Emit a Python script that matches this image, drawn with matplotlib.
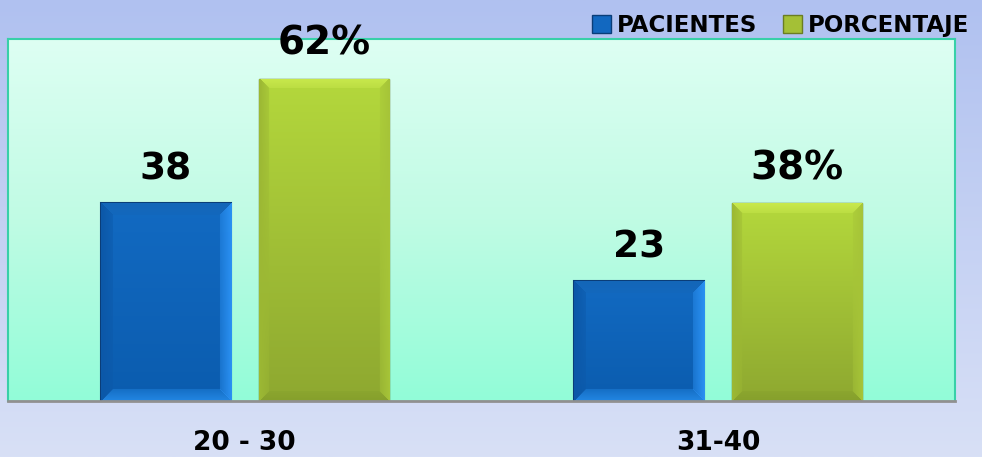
import numpy as np
import matplotlib
matplotlib.use("Agg")
import matplotlib.pyplot as plt
from matplotlib.patches import Patch
from matplotlib.colors import to_rgb

categorias = ["20 - 30", "31-40"]
pacientes = [38, 23]
porcentaje = [62, 38]
etiquetas_pac = ["38", "23"]
etiquetas_por = ["62%", "38%"]

plt.rcParams['font.family'] = ['DejaVu Sans']

fig = plt.figure(figsize=(9.82, 4.57), dpi=100)

# fondo de la figura (degradado lavanda)
bg = fig.add_axes([0, 0, 1, 1], zorder=-10)
grad = np.linspace(0, 1, 256).reshape(-1, 1)
cmap_bg = matplotlib.colors.LinearSegmentedColormap.from_list("bg", ["#b0c1f0", "#d8e0f6"])
bg.imshow(grad, aspect="auto", cmap=cmap_bg, extent=[0, 1, 0, 1], origin="upper")
bg.axis("off")

ax = fig.add_axes([8/982, 1 - 401/457, 947/982, 362/457])
ax.set_xlim(-0.5, 1.5)
ax.set_ylim(0, 69.6)

# fondo del area de trazado
cmap_pa = matplotlib.colors.LinearSegmentedColormap.from_list("pa", ["#defff3", "#c0fbe4", "#92fdd8"])
ax.imshow(grad, aspect="auto", cmap=cmap_pa, extent=[-0.5, 1.5, 0, 69.6], origin="upper", zorder=0)

x = np.arange(len(categorias))
w = 0.275
off = 0.167


def bisel(nx, ny, top, bottom, c_top, c_left, c_right, c_bot, b=12):
    # imagen RGB de una barra con bordes biselados
    t = np.linspace(0, 1, ny).reshape(-1, 1)
    base = (1 - t) * np.array(to_rgb(top)) + t * np.array(to_rgb(bottom))
    img = np.repeat(base[:, None, :], nx, axis=1)
    jj, ii = np.meshgrid(np.arange(nx), np.arange(ny))
    d_l, d_r, d_t, d_b = jj, nx - 1 - jj, ii, ny - 1 - ii
    dmin = np.minimum(np.minimum(d_l, d_r), np.minimum(d_t, d_b))
    zona = dmin < b
    for d, c in ((d_t, c_top), (d_b, c_bot), (d_l, c_left), (d_r, c_right)):
        m = zona & (d == dmin)
        # mezcla suave hacia el interior
        a = (1 - dmin[m] / b) * 0.6 + 0.4
        img[m] = a[:, None] * np.array(to_rgb(c)) + (1 - a[:, None]) * img[m]
    return img


b1 = ax.bar(x - off, pacientes, w, color="#1268c0", edgecolor="#0a3d78", linewidth=1.5, zorder=2)
b2 = ax.bar(x + off, porcentaje, w, color="#a4c036", edgecolor="#5f6e1e", linewidth=1, zorder=2)

px_per_unit = 362 / 69.6
for r in b1:
    x0, y0, ww, hh = r.get_x(), r.get_y(), r.get_width(), r.get_height()
    img = bisel(130, int(hh * px_per_unit), "#126ac2", "#0b5cae",
                "#1466b8", "#0c58a8", "#2a90f2", "#2286e2")
    im = ax.imshow(img, aspect="auto", extent=[x0, x0 + ww, y0, y0 + hh], zorder=2.5)
    im.set_clip_path(r)
for r in b2:
    x0, y0, ww, hh = r.get_x(), r.get_y(), r.get_width(), r.get_height()
    img = bisel(128, int(hh * px_per_unit), "#b4d83c", "#8ea830",
                "#c8e84c", "#9cb834", "#a6c438", "#86a02c", b=10)
    im = ax.imshow(img, aspect="auto", extent=[x0, x0 + ww, y0, y0 + hh], zorder=2.5)
    im.set_clip_path(r)

for i in range(len(categorias)):
    ax.text(x[i] - off, pacientes[i] + 3.1, etiquetas_pac[i], ha="center", va="bottom",
            fontsize=27, fontweight="bold", color="black", zorder=5)
    ax.text(x[i] + off, porcentaje[i] + 3.1, etiquetas_por[i], ha="center", va="bottom",
            fontsize=28, fontweight="bold", color="black", zorder=5, clip_on=False)

ax.set_xticks(x)
ax.set_xticklabels(categorias, fontsize=19, fontweight="bold")
ax.tick_params(axis="x", length=0, pad=21)
ax.set_yticks([])
for s in ax.spines.values():
    s.set_color("#38d0a8")
    s.set_linewidth(1.5)
ax.spines["bottom"].set_color("#909090")
ax.spines["bottom"].set_linewidth(2)

handles = [Patch(facecolor="#1268c0", edgecolor="#0a3d78"),
           Patch(facecolor="#a4c036", edgecolor="#6a7d22")]
fig.legend(handles, ["PACIENTES", "PORCENTAJE"], loc="upper right",
           bbox_to_anchor=(1.008, 1.015), ncol=2, frameon=False,
           prop={"weight": "bold", "size": 16.5}, handlelength=0.85, handleheight=0.85,
           handletextpad=0.25, columnspacing=1.1)

fig.savefig("out.png", dpi=100)
